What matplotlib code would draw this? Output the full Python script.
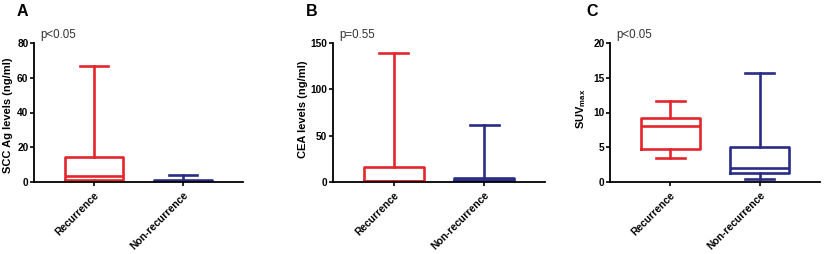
import numpy as np
import matplotlib
matplotlib.use("Agg")
import matplotlib.pyplot as plt

plt.rcParams['font.family'] = ['Liberation Sans', 'DejaVu Sans']

groups = ['Recurrence', 'Non-recurrence']
colors = ['#e3262c', '#2a2c86']

# panel A: SCC Ag levels
scc_whislo = [0.0, 0.0]
scc_q1 = [1.0, 0.2]
scc_med = [3.5, 0.5]
scc_q3 = [14.6, 1.0]
scc_whishi = [67.0, 4.2]

# panel B: CEA levels
cea_whislo = [0.0, 0.0]
cea_q1 = [1.0, 1.0]
cea_med = [1.5, 2.0]
cea_q3 = [16.5, 4.0]
cea_whishi = [139.0, 61.0]

# panel C: SUVmax
suv_whislo = [3.4, 0.5]
suv_q1 = [4.7, 1.25]
suv_med = [8.1, 2.0]
suv_q3 = [9.2, 5.05]
suv_whishi = [11.7, 15.7]

panels = [
    ('A', 'SCC Ag levels (ng/ml)', 'p<0.05', (0, 80), [0, 20, 40, 60, 80],
     scc_whislo, scc_q1, scc_med, scc_q3, scc_whishi),
    ('B', 'CEA levels (ng/ml)', 'p=0.55', (0, 150), [0, 50, 100, 150],
     cea_whislo, cea_q1, cea_med, cea_q3, cea_whishi),
    ('C', 'SUV$_{\\mathregular{max}}$', 'p<0.05', (0, 20), [0, 5, 10, 15, 20],
     suv_whislo, suv_q1, suv_med, suv_q3, suv_whishi),
]

W, H = 824, 254
fig = plt.figure(figsize=(W / 100, H / 100), dpi=100)

# axes boxes in pixels: left, right
boxes = [(34, 243), (333, 545), (610, 820)]
letter_x = [22, 312, 592]
ylab_x = [13, 308, 588]   # right edge of the rotated label
ylab_y = [0.48, 0.52, 0.53]
top_px, zero_px = 43, 182

for i, (letter, ylabel, ptxt, ylim, yticks, wlo, q1, med, q3, whi) in enumerate(panels):
    x0, x1 = boxes[i]
    ax = fig.add_axes([x0 / W, 1 - zero_px / H, (x1 - x0) / W, (zero_px - top_px) / H])
    for j in range(2):
        st = [dict(whislo=wlo[j], q1=q1[j], med=med[j], q3=q3[j], whishi=whi[j], fliers=[])]
        c = colors[j]
        ax.bxp(st, positions=[j + 1], widths=0.66, showfliers=False,
               boxprops=dict(color=c, linewidth=1.9),
               medianprops=dict(color=c, linewidth=1.9),
               whiskerprops=dict(color=c, linewidth=1.9),
               capprops=dict(color=c, linewidth=1.9),
               capwidths=0.32, manage_ticks=False)
    ax.set_xlim(1 - 0.675, 2 + 0.675)
    ax.set_ylim(*ylim)
    ax.set_yticks(yticks)
    ax.set_xticks([1, 2])
    ax.set_xticklabels(groups, rotation=45, ha='right', va='top', rotation_mode='anchor',
                       fontsize=7.4, fontweight='bold')
    ax.tick_params(axis='y', labelsize=7.3, width=1.2, length=3, pad=1)
    ax.tick_params(axis='x', width=1.2, length=3, pad=3)
    for lab in ax.get_yticklabels():
        lab.set_fontweight('bold')
    for s in ['top', 'right']:
        ax.spines[s].set_visible(False)
    for s in ['left', 'bottom']:
        ax.spines[s].set_linewidth(1.3)
    ax.set_ylabel(ylabel, fontsize=8, fontweight='bold')
    ax.yaxis.set_label_coords((ylab_x[i] - x0) / (x1 - x0), ylab_y[i])
    ax.text(0.03, 1.055, ptxt, transform=ax.transAxes, fontsize=8.3, color='#333333',
            va='center', ha='left', clip_on=False)
    fig.text(letter_x[i] / W, 1 - 12 / H, letter, fontsize=11.5, fontweight='bold',
             ha='center', va='center')

fig.savefig('out.png', dpi=100)
